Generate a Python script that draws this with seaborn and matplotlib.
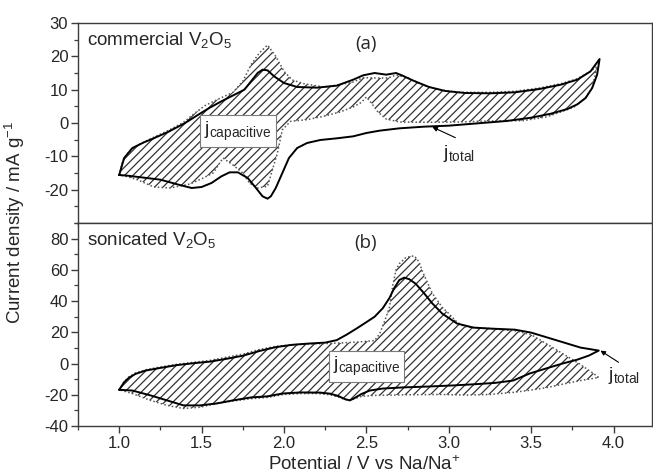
import numpy as np
import pandas as pd
import matplotlib
matplotlib.use("Agg")
import matplotlib.pyplot as plt
from matplotlib.ticker import MultipleLocator
import seaborn as sns

# ---------------- data ----------------
# (a) commercial V2O5 -- total CV (solid)
a_tot_fwd_v = [1.00, 1.03, 1.08, 1.15, 1.20, 1.30, 1.40, 1.48, 1.55, 1.62, 1.70, 1.76, 1.80, 1.84, 1.87, 1.90,
               1.94, 2.00, 2.08, 2.20, 2.32, 2.42, 2.48, 2.55, 2.62, 2.68, 2.72, 2.78, 2.88, 2.98, 3.10, 3.25,
               3.40, 3.55, 3.68, 3.78, 3.86, 3.915]
a_tot_fwd_j = [-15.6, -10.5, -7.5, -5.8, -4.8, -2.6, 0.0, 2.5, 4.6, 6.5, 8.5, 10.0, 12.5, 15.0, 16.0, 15.8,
               14.0, 12.0, 10.8, 10.6, 11.2, 13.0, 14.3, 15.0, 14.5, 15.0, 14.2, 12.8, 10.8, 9.6, 9.0, 8.9,
               9.2, 10.2, 11.5, 13.0, 15.5, 19.2]
a_tot_rev_v = [3.915, 3.90, 3.87, 3.83, 3.78, 3.72, 3.62, 3.50, 3.35, 3.20, 3.00, 2.85, 2.70, 2.58, 2.50, 2.42,
               2.32, 2.22, 2.14, 2.08, 2.03, 1.99, 1.95, 1.92, 1.90, 1.87, 1.83, 1.78, 1.72, 1.67, 1.62, 1.56,
               1.50, 1.44, 1.36, 1.25, 1.15, 1.05, 1.00]
a_tot_rev_j = [19.2, 14.5, 10.5, 7.5, 5.6, 4.2, 2.8, 1.6, 0.6, 0.0, -0.8, -1.1, -1.6, -2.3, -3.0, -4.0,
               -4.6, -5.1, -6.0, -7.5, -10.5, -15.0, -19.5, -22.0, -22.7, -22.0, -19.5, -16.5, -14.8, -14.8, -16.0, -18.0,
               -19.2, -19.5, -18.5, -17.0, -16.4, -15.8, -15.6]
# (a) capacitive contribution (dotted, hatched)
a_cap_fwd_v = [1.00, 1.02, 1.06, 1.12, 1.20, 1.30, 1.39, 1.46, 1.52, 1.59, 1.69, 1.75, 1.80, 1.85, 1.90, 1.95,
               2.00, 2.05, 2.12, 2.24, 2.34, 2.42, 2.48, 2.56, 2.63, 2.68, 2.75, 2.84, 2.95, 3.05, 3.25, 3.40,
               3.55, 3.68, 3.78, 3.86, 3.90]
a_cap_fwd_j = [-15.6, -11.5, -8.5, -6.5, -4.5, -2.2, 0.2, 3.0, 5.2, 6.9, 9.2, 12.5, 17.5, 21.0, 23.4, 20.0,
               15.5, 12.9, 11.8, 10.8, 11.5, 12.3, 13.6, 13.5, 13.5, 14.4, 13.6, 11.4, 9.9, 9.2, 9.2, 9.5,
               10.5, 11.8, 13.3, 15.5, 17.0]
a_cap_rev_v = [3.90, 3.87, 3.83, 3.76, 3.68, 3.59, 3.45, 3.25, 3.05, 2.85, 2.70, 2.62, 2.57, 2.53, 2.50, 2.47,
               2.42, 2.34, 2.24, 2.14, 2.04, 1.99, 1.96, 1.93, 1.90, 1.84, 1.79, 1.75, 1.69, 1.63, 1.57, 1.51,
               1.43, 1.31, 1.21, 1.11, 1.04, 1.00]
a_cap_rev_j = [17.0, 10.5, 7.5, 4.8, 3.3, 1.8, 0.7, 0.6, 0.3, 0.2, 0.3, 1.2, 3.3, 6.0, 7.8, 6.2,
               4.8, 3.3, 2.0, 1.0, 0.5, -2.0, -9.0, -14.0, -19.0, -19.5, -18.0, -15.0, -12.6, -10.5, -15.0, -16.5,
               -18.3, -19.5, -19.2, -17.0, -16.0, -15.6]

# (b) sonicated V2O5 -- total CV (solid)
b_tot_fwd_v = [1.00, 1.03, 1.06, 1.10, 1.16, 1.25, 1.35, 1.45, 1.55, 1.65, 1.75, 1.85, 1.95, 2.05, 2.15, 2.25,
               2.32, 2.38, 2.44, 2.50, 2.55, 2.60, 2.64, 2.67, 2.70, 2.73, 2.76, 2.80, 2.85, 2.90, 2.96, 3.05,
               3.15, 3.25, 3.40, 3.50, 3.60, 3.70, 3.80, 3.91]
b_tot_fwd_j = [-16.8, -12.0, -9.0, -6.6, -4.5, -2.8, -1.0, 0.2, 1.2, 3.0, 5.0, 8.0, 10.5, 12.0, 12.8, 13.4,
               15.0, 18.5, 22.4, 26.5, 30.0, 35.5, 42.0, 48.5, 53.5, 55.0, 54.0, 51.0, 45.0, 38.5, 32.0, 25.6,
               23.0, 22.4, 21.7, 19.8, 16.6, 13.4, 10.2, 8.3]
b_tot_rev_v = [3.91, 3.85, 3.78, 3.69, 3.58, 3.49, 3.39, 3.28, 3.15, 3.03, 2.88, 2.72, 2.60, 2.52, 2.47, 2.43,
               2.40, 2.37, 2.33, 2.28, 2.22, 2.10, 1.99, 1.90, 1.80, 1.69, 1.59, 1.49, 1.39, 1.29, 1.19, 1.08,
               1.00]
b_tot_rev_j = [8.3, 5.1, 2.5, 0.0, -3.5, -6.4, -10.9, -12.4, -13.3, -14.0, -14.7, -15.3, -16.0, -17.3, -19.5, -22.0,
               -23.6, -22.8, -20.8, -19.3, -18.6, -18.5, -19.2, -21.0, -21.7, -23.6, -25.6, -26.8, -26.8, -23.6, -20.4, -17.3,
               -16.8]
# (b) capacitive contribution (dotted, hatched)
b_cap_fwd_v = [1.00, 1.03, 1.06, 1.10, 1.16, 1.25, 1.35, 1.45, 1.55, 1.65, 1.75, 1.85, 1.95, 2.05, 2.15, 2.25,
               2.35, 2.45, 2.55, 2.58, 2.61, 2.64, 2.66, 2.68, 2.70, 2.74, 2.79, 2.82, 2.84, 2.87, 2.90, 2.96,
               3.00, 3.05, 3.10, 3.25, 3.40, 3.50, 3.59, 3.69, 3.79, 3.87, 3.91]
b_cap_fwd_j = [-16.8, -11.5, -8.5, -6.0, -4.0, -2.2, -0.5, 0.8, 2.0, 4.0, 6.0, 9.0, 11.0, 12.0, 12.5, 12.8,
               13.2, 13.8, 14.7, 19.0, 27.0, 36.0, 50.0, 60.0, 64.0, 68.0, 69.0, 65.0, 59.0, 52.0, 45.0, 36.0,
               32.0, 26.5, 23.5, 22.4, 21.0, 18.5, 12.8, 6.4, 0.0, -5.8, -8.9]
b_cap_rev_v = [3.91, 3.85, 3.80, 3.70, 3.60, 3.50, 3.39, 3.25, 3.10, 2.95, 2.75, 2.55, 2.47, 2.43, 2.40, 2.37,
               2.33, 2.28, 2.20, 2.10, 2.00, 1.90, 1.80, 1.69, 1.59, 1.49, 1.39, 1.29, 1.19, 1.08, 1.00]
b_cap_rev_j = [-8.9, -10.0, -10.9, -13.0, -15.3, -17.0, -18.5, -19.8, -20.2, -19.8, -20.0, -20.4, -21.0, -22.5, -23.6, -23.0,
               -21.5, -20.0, -19.2, -19.2, -19.8, -21.7, -22.5, -24.0, -25.6, -28.0, -28.8, -26.8, -23.6, -19.2, -16.8]

x_ticks = [1.0, 1.5, 2.0, 2.5, 3.0, 3.5, 4.0]
x_tick_labels = ["1.0", "1.5", "2.0", "2.5", "3.0", "3.5", "4.0"]
a_yticks = [-20, -10, 0, 10, 20, 30]
b_yticks = [-40, -20, 0, 20, 40, 60, 80]

# ---------------- style ----------------
sns.set_style("ticks")
plt.rcParams["font.family"] = ["Liberation Sans", "DejaVu Sans"]
plt.rcParams["mathtext.fontset"] = "custom"
plt.rcParams["mathtext.rm"] = "Liberation Sans"
plt.rcParams["mathtext.it"] = "Liberation Sans"
plt.rcParams["mathtext.default"] = "regular"
plt.rcParams["axes.unicode_minus"] = False
plt.rcParams["hatch.linewidth"] = 0.9

fig = plt.figure(figsize=(6.53, 4.75), dpi=100)
L, W = 78 / 653, (651.5 - 78) / 653
ax_a = fig.add_axes([L, 1 - 223 / 475, W, 200 / 475])
ax_b = fig.add_axes([L, 1 - 426 / 475, W, 203 / 475])

spine_col = "#3c3c3c"


def loop(v1, j1, v2, j2):
    return pd.DataFrame({"V": list(v1) + list(v2), "j": list(j1) + list(j2)})


def draw(ax, tot, cap):
    ax.fill(cap["V"], cap["j"], facecolor="none", edgecolor="#333333", hatch="////", linewidth=0)
    sns.lineplot(data=cap, x="V", y="j", sort=False, estimator=None, ax=ax,
                 color="#555555", linewidth=1.1, linestyle=(0, (1, 1.5)))
    sns.lineplot(data=tot, x="V", y="j", sort=False, estimator=None, ax=ax,
                 color="black", linewidth=1.4)
    ax.set_xlabel("")
    ax.set_ylabel("")
    ax.set_xlim(0.75, 4.23)
    ax.xaxis.set_major_locator(MultipleLocator(0.5))
    ax.xaxis.set_minor_locator(MultipleLocator(0.25))
    for s in ax.spines.values():
        s.set_visible(True)
        s.set_color(spine_col)
        s.set_linewidth(1.0)
    ax.tick_params(which="major", direction="out", length=5, width=1.0, color=spine_col,
                   labelsize=12, pad=2)
    ax.tick_params(which="minor", direction="out", length=3, width=0.9, color=spine_col)


tot_a = loop(a_tot_fwd_v, a_tot_fwd_j, a_tot_rev_v, a_tot_rev_j)
cap_a = loop(a_cap_fwd_v, a_cap_fwd_j, a_cap_rev_v, a_cap_rev_j)
tot_b = loop(b_tot_fwd_v, b_tot_fwd_j, b_tot_rev_v, b_tot_rev_j)
cap_b = loop(b_cap_fwd_v, b_cap_fwd_j, b_cap_rev_v, b_cap_rev_j)

draw(ax_a, tot_a, cap_a)
draw(ax_b, tot_b, cap_b)

ax_a.set_ylim(-30, 30)
ax_a.set_yticks(a_yticks)
ax_a.yaxis.set_minor_locator(MultipleLocator(5))
ax_a.set_xticks(x_ticks)
ax_a.tick_params(axis="x", labelbottom=False)

ax_b.set_ylim(-40, 90)
ax_b.set_yticks(b_yticks)
ax_b.yaxis.set_minor_locator(MultipleLocator(10))
ax_b.set_xticks(x_ticks)
ax_b.set_xticklabels(x_tick_labels)

# labels
ax_b.set_xlabel("Potential / V vs Na/Na$^{+}$", fontsize=13.5, labelpad=3)
fig.text(15 / 653, 1 - 222 / 475, "Current density / mA g$^{-1}$", rotation=90,
         ha="center", va="center", fontsize=13.5)

ax_a.text(0.016, 0.89, "commercial V$_{2}$O$_{5}$", transform=ax_a.transAxes,
          fontsize=13.5, ha="left", va="baseline")
ax_b.text(0.016, 0.892, "sonicated V$_{2}$O$_{5}$", transform=ax_b.transAxes,
          fontsize=13.5, ha="left", va="baseline")
ax_a.text(0.502, 0.895, "(a)", transform=ax_a.transAxes, fontsize=13.5,
          ha="center", va="center", family="Open Sans")
ax_b.text(0.502, 0.90, "(b)", transform=ax_b.transAxes, fontsize=13.5,
          ha="center", va="center", family="Open Sans")

box = dict(boxstyle="square,pad=0.22", fc="white", ec="#7a7a7a", lw=0.8)
ax_a.text(1.72, -2.4, "$j_{capacitive}$", fontsize=14, ha="center", va="center", bbox=box)
ax_b.text(2.50, -1.9, "$j_{capacitive}$", fontsize=14, ha="center", va="center", bbox=box)

arr = dict(arrowstyle="-|>", color="black", lw=0.8, mutation_scale=7, shrinkA=0, shrinkB=0)
ax_a.annotate("", xy=(2.90, -1.2), xytext=(3.04, -4.4), arrowprops=arr)
ax_a.text(3.06, -9.0, "$j_{total}$", fontsize=14, ha="center", va="center")
ax_b.annotate("", xy=(3.92, 8.3), xytext=(4.03, 0.8), arrowprops=arr)
ax_b.text(4.06, -7.7, "$j_{total}$", fontsize=14, ha="center", va="center")

fig.savefig("out.png", dpi=100)
